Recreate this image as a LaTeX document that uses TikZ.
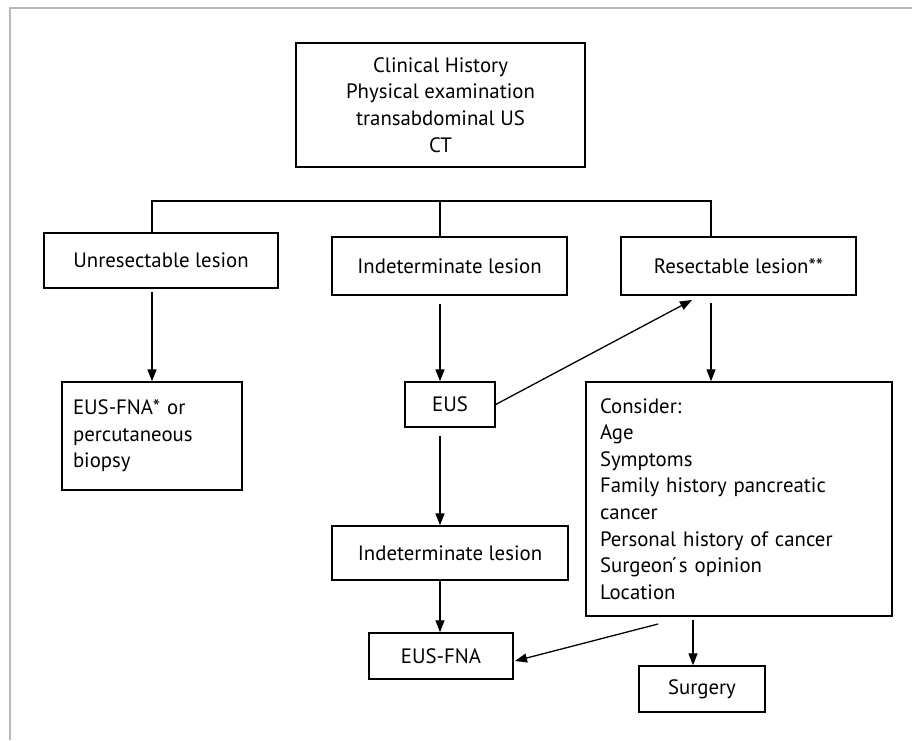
\documentclass[tikz,border=0pt]{standalone}
\usepackage{fontspec}
\setmainfont{PT Sans}
\usetikzlibrary{arrows.meta}

\begin{document}
\begin{tikzpicture}[x=1pt, y=-1pt, font=\fontsize{20.8}{26.6}\selectfont,
        box/.style={draw=black, line width=1.4, inner sep=0pt, align=center},
        link/.style={line width=1.3, color=black},
        arrow/.style={line width=1.3, color=black, arrows=-{Triangle[length=12pt, width=9pt]}}]
        \useasboundingbox (0, 0) rectangle (912, 740);

        % Frame:
        \draw[line width=1.5, color=gray!55] (10, 740) -- (10, 8) -- (912, 8);

        % Boxes:
        \node[box, minimum width=289, minimum height=124] (clinical) at (440.5, 105)
            {\fontsize{20.8}{27.7}\selectfont Clinical History\\Physical examination\\transabdominal US\\CT};
        \node[box, minimum width=234, minimum height=55] (unres) at (161, 260.5) {Unresectable lesion};
        \node[box, minimum width=235, minimum height=58] (indet) at (449.5, 266) {Indeterminate lesion};
        \node[box, minimum width=235, minimum height=58] (resect) at (738.5, 266) {Resectable lesion**};
        \node[box, minimum height=108, text width=158, inner xsep=11, align=left] (fnaone) at (152, 436)
            {EUS-FNA* or\\percutaneous\\biopsy};
        \node[box, minimum width=90, minimum height=45] (eus) at (450, 404.5) {EUS};
        \node[box, minimum height=234, text width=278, inner xsep=14, align=left] (consider) at (739, 499)
            {Consider:\\Age\\Symptoms\\Family history pancreatic\\cancer\\Personal history of cancer\\Surgeon\'{}s opinion\\Location};
        \node[box, minimum width=236, minimum height=54] (indettwo) at (450, 553) {Indeterminate lesion};
        \node[box, minimum width=144, minimum height=46] (fnatwo) at (441, 656) {EUS-FNA};
        \node[box, minimum width=126, minimum height=46] (surgery) at (702, 689) {Surgery};

        % Branches:
        \coordinate (busL) at (152, 201);
        \coordinate (busM) at (440, 201);
        \coordinate (busR) at (711, 201);
        \coordinate (surgX) at (693, 0);
        \coordinate (eusTip) at (692, 300);
        \coordinate (fnaFrom) at (658, 624);
        \coordinate (fnaTip) at (515, 661);
        \draw[link] (unres.north -| busL) -- (busL) -- (busR) -- (resect.north -| busR);
        \draw[link] (busM) -- (indet.north -| busM);

        % Arrows:
        \draw[arrow, shorten <=3pt] (unres.south -| busL) -- (fnaone.north -| busL);
        \draw[arrow, shorten <=8pt] (indet.south -| busM) -- (eus.north -| busM);
        \draw[arrow, shorten <=7pt] (resect.south -| busR) -- (consider.north -| busR);
        \draw[arrow] (eus.east) -- (eusTip);
        \draw[arrow, shorten <=8pt] (eus.south -| busM) -- (indettwo.north -| busM);
        \draw[arrow] (indettwo.south -| busM) -- (fnatwo.north -| busM);
        \draw[arrow] (fnaFrom) -- (fnaTip);
        \draw[arrow, shorten <=3pt] (consider.south -| surgX) -- (surgery.north -| surgX);
    \end{tikzpicture}
\end{document}
